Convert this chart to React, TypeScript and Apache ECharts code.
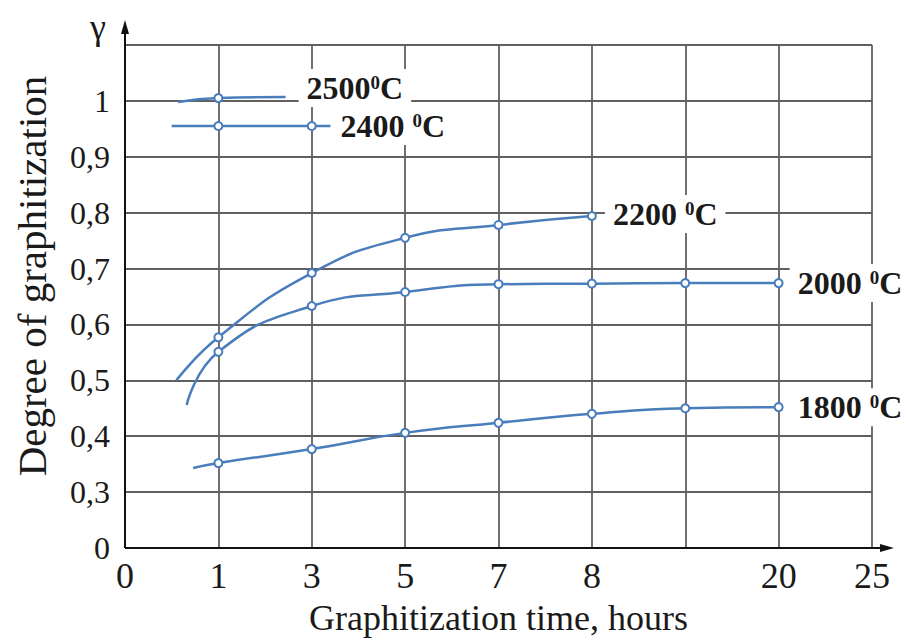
import React, { useEffect, useRef } from "react";
import * as echarts from "echarts";

// Tick labels of the (non-linear) axes, one per axis slot
const xTickLabels = ["0", "1", "3", "5", "7", "8", "", "20", "25"];
const yTickLabels = ["0", "0,3", "0,4", "0,5", "0,6", "0,7", "0,8", "0,9", "1", ""];

// Measured points: x = axis slot (1 -> 1 h, 2 -> 3 h, ...), y = degree of graphitization
const slots1800 = [1, 2, 3, 4, 5, 6, 7];
const gamma1800 = [0.352, 0.377, 0.406, 0.424, 0.44, 0.45, 0.452];
const start1800 = [0.73, 0.343];

const slots2000 = [1, 2, 3, 4, 5, 6, 7];
const gamma2000 = [0.551, 0.633, 0.658, 0.672, 0.673, 0.674, 0.674];
const start2000 = [0.66, 0.456];

const slots2200 = [1, 2, 3, 4, 5];
const gamma2200 = [0.577, 0.692, 0.755, 0.778, 0.794];
const start2200 = [0.55, 0.5];

const slots2400 = [1, 2];
const gamma2400 = [0.955, 0.955];
const start2400 = [0.5, 0.955];
const end2400 = [2.2, 0.955];

const slots2500 = [1];
const gamma2500 = [1.005];
const start2500 = [0.57, 0.998];
const end2500 = [1.72, 1.007];

const seriesNames = ["1800", "2000", "2200", "2400", "2500"];

const FONT = '"Liberation Serif", "Times New Roman", serif';
const LINE = "#4a7dbb";
const GRID = "#606060";
const TXT = "#1a1a1a";

// y axis: slot 0 = 0, slot 1 = 0.3, then 0.1 per slot
const toSlot = (v: number) => (v < 0.3 ? v / 0.3 : 1 + (v - 0.3) * 10);

function build(start: number[], slots: number[], vals: number[], end?: number[]) {
  const d: any[] = [{ value: [start[0], toSlot(start[1])], symbol: "none" }];
  slots.forEach((s, i) => d.push({ value: [s, toSlot(vals[i])] }));
  if (end) d.push({ value: [end[0], toSlot(end[1])], symbol: "none" });
  return d;
}

const rich = {
  n: { fontSize: 32, fontWeight: "bold", fontFamily: FONT, color: TXT, lineHeight: 30 },
  s: { fontSize: 19, fontWeight: "bold", fontFamily: FONT, color: TXT, verticalAlign: "top" },
  c: { fontSize: 32, fontWeight: "bold", fontFamily: FONT, color: TXT, lineHeight: 30 },
};

function lineSeries(name: string, data: any[], label: string, distance: number, offsetY: number) {
  return {
    name,
    type: "line",
    data,
    smooth: 0.5,
    symbol: "emptyCircle",
    symbolSize: 8,
    lineStyle: { color: LINE, width: 2.5 },
    itemStyle: { color: LINE, borderWidth: 2 },
    clip: false,
    z: 3,
    endLabel: {
      show: true,
      formatter: label,
      distance,
      offset: [0, offsetY],
      backgroundColor: "#fff",
      padding: [4, 8],
      rich,
    },
  };
}

export default function App() {
  const ref = useRef<HTMLDivElement>(null);
  useEffect(() => {
    if (!ref.current) return;
    const chart = echarts.init(ref.current, undefined, { renderer: "svg" });
    const left = 125, right = 34, top = 45, bottom = 95;
    const H = 643;
    const x0 = left, y0 = H - bottom;
    chart.setOption({
      animation: false,
      backgroundColor: "#fff",
      grid: { left, right, top, bottom, containLabel: false, outerBoundsMode: "none" },
      xAxis: {
        type: "value",
        min: 0,
        max: 8,
        interval: 1,
        axisLine: { show: false },
        axisTick: { show: false },
        splitLine: { show: true, lineStyle: { color: GRID, width: 1.8 } },
        axisLabel: {
          formatter: (v: number) => xTickLabels[Math.round(v)] ?? "",
          fontSize: 36,
          fontFamily: FONT,
          color: TXT,
          margin: 10,
        },
        name: "Graphitization time, hours",
        nameLocation: "middle",
        nameGap: 52,
        nameTextStyle: { fontSize: 36, fontFamily: FONT, color: TXT },
      },
      yAxis: {
        type: "value",
        min: 0,
        max: 9,
        interval: 1,
        axisLine: { show: false },
        axisTick: { show: false },
        splitLine: { show: true, lineStyle: { color: GRID, width: 1.8 } },
        axisLabel: {
          formatter: (v: number) => yTickLabels[Math.round(v)] ?? "",
          fontSize: 32,
          fontFamily: FONT,
          color: TXT,
          margin: 15,
        },
      },
      graphic: [
        { type: "line", z: 10, shape: { x1: x0, y1: y0, x2: x0, y2: 30 }, style: { stroke: "#111", lineWidth: 2 } },
        { type: "polygon", z: 10, shape: { points: [[x0, 20], [x0 - 4, 34], [x0 + 4, 34]] }, style: { fill: "#111" } },
        { type: "line", z: 10, shape: { x1: x0, y1: y0, x2: 884, y2: y0 }, style: { stroke: "#111", lineWidth: 2 } },
        { type: "polygon", z: 10, shape: { points: [[894, y0], [880, y0 - 4], [880, y0 + 4]] }, style: { fill: "#111" } },
        {
          type: "text",
          z: 10,
          x: 98,
          y: 27,
          style: { text: "γ", fontSize: 36, fontFamily: FONT, fill: TXT, align: "center", verticalAlign: "middle", textAlign: "center", textVerticalAlign: "middle" },
        },
        {
          type: "text",
          z: 10,
          x: 32,
          y: 276,
          rotation: Math.PI / 2,
          style: {
            text: "Degree of graphitization",
            fontSize: 41,
            fontFamily: FONT,
            fill: TXT,
            align: "center",
            verticalAlign: "middle",
            textAlign: "center",
            textVerticalAlign: "middle",
          },
        },
      ],
      series: [
        lineSeries(seriesNames[0], build(start1800, slots1800, gamma1800), "{n|1800 }{s|0}{c|C}", 11, 0),
        lineSeries(seriesNames[1], build(start2000, slots2000, gamma2000), "{n|2000 }{s|0}{c|C}", 11, 0),
        lineSeries(seriesNames[2], build(start2200, slots2200, gamma2200), "{n|2200 }{s|0}{c|C}", 13, -2),
        lineSeries(seriesNames[3], build(start2400, slots2400, gamma2400, end2400), "{n|2400 }{s|0}{c|C}", 2, 0),
        lineSeries(seriesNames[4], build(start2500, slots2500, gamma2500, end2500), "{n|2500}{s|0}{c|C}", 13, -9),
      ],
    });
    return () => chart.dispose();
  }, []);
  return <div ref={ref} style={{ position: "fixed", left: 0, top: 0, width: 906, height: 643 }} />;
}
